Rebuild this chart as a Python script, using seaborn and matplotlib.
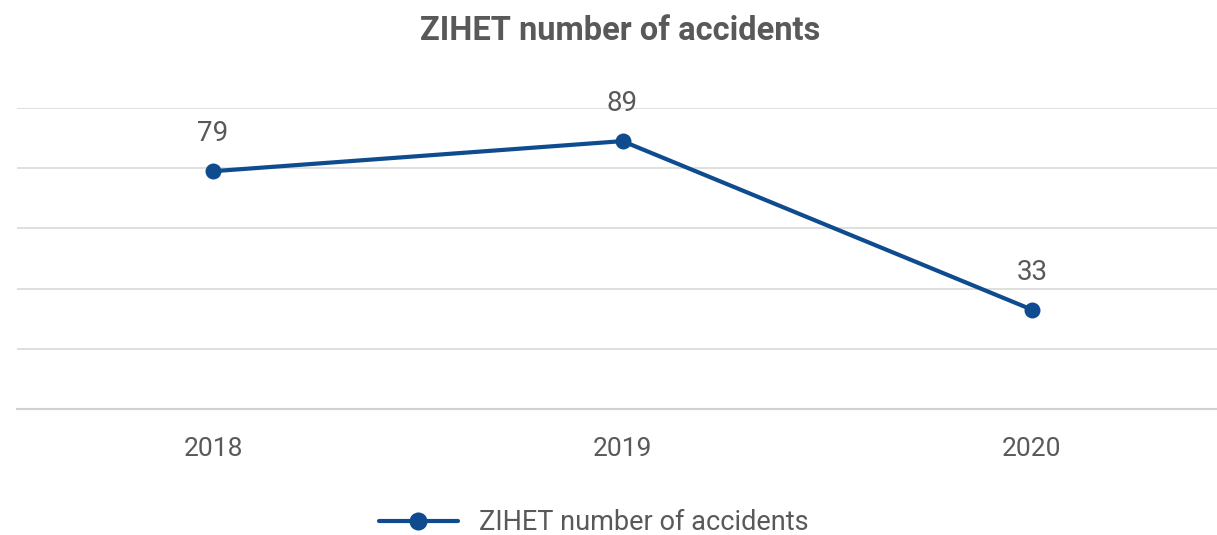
import matplotlib
matplotlib.use("Agg")
import matplotlib.pyplot as plt
import seaborn as sns
import pandas as pd

years = ["2018", "2019", "2020"]
accidents = [79, 89, 33]
series_name = "ZIHET number of accidents"

sns.set_theme(style="white")
plt.rcParams['font.family'] = ['Roboto', 'DejaVu Sans']

df = pd.DataFrame({"year": years, "value": accidents, "series": series_name})

fig = plt.figure(figsize=(12.17, 5.35), dpi=100)
ax = fig.add_axes([17/1217, 1-409/535, 1200/1217, 301/535])

color = "#0f4c8f"
text_color = "#595959"

sns.lineplot(data=df, x="year", y="value", hue="series", palette=[color],
             marker="o", markersize=11.5, markeredgewidth=0, linewidth=3,
             ax=ax, sort=False)

ax.set_ylim(0, 100)
ax.set_xlim(-0.479, 2.452)
ax.set_yticks([0, 20, 40, 60, 80, 100])
ax.set_yticklabels([])
ax.tick_params(axis="y", length=0)
ax.tick_params(axis="x", length=0, labelsize=19, colors=text_color, pad=20)
ax.grid(axis="y", color="#d9d9d9", linewidth=1.2)
ax.set_axisbelow(True)
for s in ["top", "right", "left"]:
    ax.spines[s].set_visible(False)
ax.spines["bottom"].set_color("#d0d0d0")
ax.spines["bottom"].set_linewidth(1.5)
ax.set_xlabel("")
ax.set_ylabel("")

for i, v in enumerate(accidents):
    ax.annotate(str(v), (i, v), xytext=(0, 27), textcoords="offset points",
                ha="center", va="center", fontsize=20, color=text_color)

fig.text(0.5095, 1-31/535, "ZIHET number of accidents", ha="center", va="center",
         fontsize=23.5, fontweight="bold", color=text_color)

handles, labels = ax.get_legend_handles_labels()
for h in handles:
    h.set_markersize(13)
ax.legend(handles=handles, labels=labels, loc="center", bbox_to_anchor=(594/1217, 1-523/535),
          bbox_transform=fig.transFigure, frameon=False, fontsize=19.5,
          labelcolor=text_color, handlelength=2.9, handletextpad=0.8)

fig.savefig("out.png", dpi=100)
